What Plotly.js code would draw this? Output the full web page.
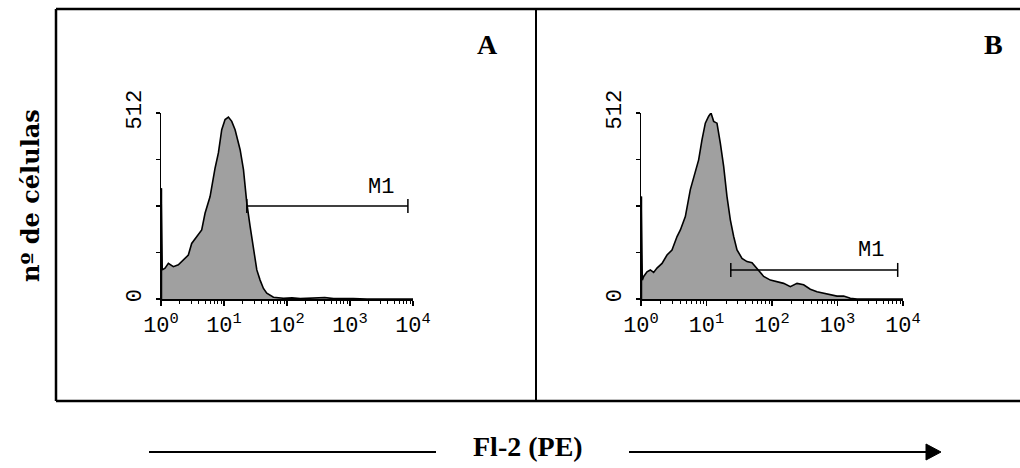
<!DOCTYPE html>
<html>
<head>
<meta charset="utf-8">
<script src="https://cdn.plot.ly/plotly-3.0.1.min.js"></script>
<style>html,body{margin:0;padding:0;background:#fff;}#chart{width:1020px;height:468px;}</style>
</head>
<body>
<div id="chart"></div>
<script>
// Panel A: log10 channel (Fl-2) and cell counts
const logA = [0, 0, 0.02, 0.064, 0.117, 0.196, 0.275, 0.355, 0.434, 0.487, 0.567, 0.646, 0.699, 0.779, 0.858, 0.911, 0.964, 1.017, 1.070, 1.123, 1.176, 1.256, 1.309, 1.362, 1.415, 1.468, 1.521, 1.573, 1.626, 1.679, 1.785, 1.944, 2.08, 2.21, 2.35, 2.47, 2.6, 2.74, 2.9, 3.05, 3.27, 3.6, 4];
const countA = [0, 305, 80, 85, 98, 89, 94, 108, 121, 153, 172, 190, 236, 282, 360, 402, 466, 494, 501, 489, 466, 411, 356, 264, 199, 135, 80, 52, 29, 16, 5, 2, 3, 1, 2, 2, 4, 1, 2, 1, 0, 0, 0];
// Panel B
const logB = [0, 0, 0.02, 0.041, 0.092, 0.142, 0.193, 0.244, 0.321, 0.397, 0.473, 0.550, 0.601, 0.677, 0.753, 0.830, 0.880, 0.931, 0.982, 1.033, 1.069, 1.109, 1.160, 1.211, 1.262, 1.313, 1.364, 1.415, 1.466, 1.542, 1.618, 1.695, 1.771, 1.873, 1.975, 2.076, 2.178, 2.280, 2.382, 2.483, 2.585, 2.687, 2.789, 2.891, 2.992, 3.094, 3.196, 3.298, 3.6, 4];
const countB = [0, 282, 52, 62, 75, 80, 73, 85, 98, 121, 135, 172, 190, 227, 301, 347, 383, 438, 484, 503, 512, 489, 484, 429, 365, 282, 218, 172, 135, 112, 103, 100, 85, 62, 52, 48, 43, 34, 43, 39, 27, 20, 16, 13, 8, 8, 2, 0, 0, 0];
// M1 gates: [start, end] in Fl-2 units, and marker height in counts
const gateA = [23, 8300];
const gateAY = 256;
const gateB = [23.5, 8300];
const gateBY = 80;
// Tick labels
const xTickVals = [1, 10, 100, 1000, 10000];
const xTickText = ['10<sup>0</sup>', '10<sup>1</sup>', '10<sup>2</sup>', '10<sup>3</sup>', '10<sup>4</sup>'];
const yTickVals = [0, 512];
const yTickText = ['0', '512'];
const yMinorVals = [128, 256, 384];
const panelLabels = ['A', 'B'];

const toLin = arr => arr.map(v => Math.pow(10, v));
const minorVals = [];
for (let d = 0; d < 4; d++) for (let k = 2; k <= 9; k++) minorVals.push(k * Math.pow(10, d));

const fillCol = '#a0a0a0';
const tickFont = {family: 'Liberation Mono, Courier New, monospace', size: 22, color: '#000'};

const traces = [
  {x: toLin(logA), y: countA, type: 'scatter', mode: 'lines', fill: 'tozeroy', fillcolor: fillCol,
   line: {color: '#000', width: 1.6}, xaxis: 'x', yaxis: 'y', hoverinfo: 'skip'},
  {x: toLin(logB), y: countB, type: 'scatter', mode: 'lines', fill: 'tozeroy', fillcolor: fillCol,
   line: {color: '#000', width: 1.6}, xaxis: 'x2', yaxis: 'y2', hoverinfo: 'skip'}
];

function xAx(domain) {
  return {type: 'log', range: [0, 4], domain: domain, showline: true, linecolor: '#000', linewidth: 1.5,
    ticks: 'outside', ticklen: 5, tickwidth: 1.5, tickcolor: '#000', tickmode: 'array',
    tickvals: xTickVals, ticktext: xTickText, tickfont: tickFont, showgrid: false, zeroline: false,
    minor: {tickmode: 'array', tickvals: minorVals, ticks: 'outside', ticklen: 3, tickwidth: 1, tickcolor: '#000', showgrid: false},
    fixedrange: true};
}
function yAx(domain, anchor) {
  return {range: [0, 512], domain: domain, anchor: anchor, showline: true, linecolor: '#000', linewidth: 1.5,
    ticks: 'outside', ticklen: 4, tickwidth: 1.5, tickcolor: '#000', tickmode: 'array',
    tickvals: yTickVals, ticktext: yTickText, tickangle: -90, tickfont: tickFont, ticklabelstandoff: 6,
    minor: {tickmode: 'array', tickvals: yMinorVals, ticks: 'outside', ticklen: 4, tickwidth: 1.5, tickcolor: '#000', showgrid: false},
    showgrid: false, zeroline: false, fixedrange: true};
}

const yDom = [1 - 299 / 468, 1 - 113 / 468];
const P = (px) => px / 1020;
const Q = (py) => 1 - py / 468;

function gateShapes(gate, gy, xr, yr) {
  return [
    {type: 'line', xref: xr, yref: yr, x0: gate[0], x1: gate[1], y0: gy, y1: gy, line: {color: '#000', width: 1.5}},
    {type: 'line', xref: xr, yref: yr, x0: gate[0], x1: gate[0], ysizemode: 'pixel', yanchor: gy, y0: -7, y1: 7, line: {color: '#000', width: 1.5}},
    {type: 'line', xref: xr, yref: yr, x0: gate[1], x1: gate[1], ysizemode: 'pixel', yanchor: gy, y0: -7, y1: 7, line: {color: '#000', width: 1.5}}
  ];
}

const frame = {color: '#000', width: 2.5};
const shapes = [
  {type: 'line', xref: 'paper', yref: 'paper', x0: P(56), x1: 1.01, y0: Q(9), y1: Q(9), line: frame},
  {type: 'line', xref: 'paper', yref: 'paper', x0: P(56), x1: 1.01, y0: Q(401), y1: Q(401), line: frame},
  {type: 'line', xref: 'paper', yref: 'paper', x0: P(56), x1: P(56), y0: Q(9), y1: Q(401), line: frame},
  {type: 'line', xref: 'paper', yref: 'paper', x0: P(536), x1: P(536), y0: Q(9), y1: Q(401), line: {color: '#000', width: 2}},
  // bottom arrow
  {type: 'line', xref: 'paper', yref: 'paper', x0: P(149), x1: P(436), y0: Q(452), y1: Q(452), line: {color: '#000', width: 2}},
  {type: 'line', xref: 'paper', yref: 'paper', x0: P(629), x1: P(928), y0: Q(452), y1: Q(452), line: {color: '#000', width: 2}},
  {type: 'path', xref: 'paper', yref: 'paper', path: `M ${P(926)} ${Q(444)} L ${P(941)} ${Q(452)} L ${P(926)} ${Q(460)} Z`, fillcolor: '#000', line: {color: '#000', width: 1}},
  // first-channel pile-up stroke (drawn at the data position x = 10^0)
  {type: 'line', xref: 'x', yref: 'y', x0: toLin(logA)[1], x1: toLin(logA)[1], y0: 0, y1: countA[1], line: {color: '#000', width: 2.5}},
  {type: 'line', xref: 'x2', yref: 'y2', x0: toLin(logB)[1], x1: toLin(logB)[1], y0: 0, y1: countB[1], line: {color: '#000', width: 2.5}}
].concat(gateShapes(gateA, gateAY, 'x', 'y'), gateShapes(gateB, gateBY, 'x2', 'y2'));

const titleFont = {family: 'Liberation Serif, Times New Roman, serif', size: 28, color: '#000'};
const yTitleFont = {family: 'DejaVu Serif, serif', size: 24, color: '#000'};
const annotations = [
  {xref: 'paper', yref: 'paper', x: P(487), y: Q(45), text: '<b>' + panelLabels[0] + '</b>', showarrow: false, font: titleFont, xanchor: 'center', yanchor: 'middle'},
  {xref: 'paper', yref: 'paper', x: P(993), y: Q(45), text: '<b>' + panelLabels[1] + '</b>', showarrow: false, font: titleFont, xanchor: 'center', yanchor: 'middle'},
  {xref: 'paper', yref: 'paper', x: P(30), y: Q(196), text: '<b>nº de células</b>', textangle: -90, showarrow: false, font: yTitleFont, xanchor: 'center', yanchor: 'middle'},
  {xref: 'paper', yref: 'paper', x: P(528), y: Q(446), text: '<b>Fl-2 (PE)</b>', showarrow: false, font: titleFont, xanchor: 'center', yanchor: 'middle'},
  {xref: 'x', yref: 'y', x: Math.log10(gateA[1]), y: gateAY, text: 'M1', showarrow: false, font: tickFont, xanchor: 'right', yanchor: 'bottom', xshift: -12, yshift: 4},
  {xref: 'x2', yref: 'y2', x: Math.log10(gateB[1]), y: gateBY, text: 'M1', showarrow: false, font: tickFont, xanchor: 'right', yanchor: 'bottom', xshift: -12, yshift: 5}
];

const layout = {
  width: 1020, height: 468, margin: {l: 0, r: 0, t: 0, b: 0},
  paper_bgcolor: '#fff', plot_bgcolor: 'rgba(0,0,0,0)', showlegend: false,
  xaxis: xAx([P(161), P(413)]), yaxis: yAx(yDom, 'x'),
  xaxis2: xAx([P(641), P(903)]), yaxis2: yAx(yDom, 'x2'),
  shapes: shapes, annotations: annotations
};
layout.xaxis.anchor = 'y';
layout.xaxis2.anchor = 'y2';

Plotly.newPlot('chart', traces, layout, {staticPlot: true, displayModeBar: false});
</script>
</body>
</html>
